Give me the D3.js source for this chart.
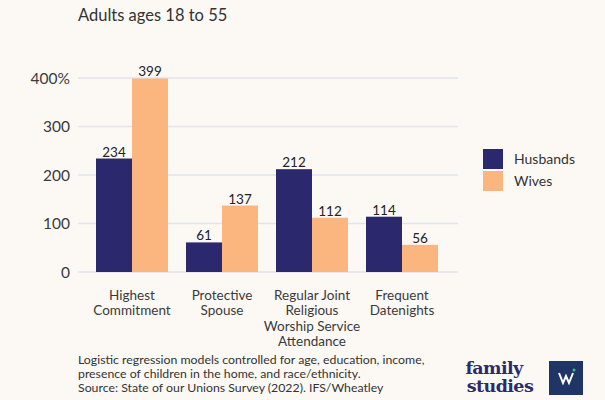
<!DOCTYPE html>
<html>
<head>
<meta charset="utf-8">
<script src="https://cdn.jsdelivr.net/npm/d3@7"></script>
<style>
  body { margin: 0; background: #fcf9f5; }
  svg { display: block; font-family: Lato, "Open Sans", sans-serif; }
</style>
</head>
<body>
<div class="svg-container"></div>
<script>
var categories = [
  ["Highest", "Commitment"],
  ["Protective", "Spouse"],
  ["Regular Joint", "Religious", "Worship Service", "Attendance"],
  ["Frequent", "Datenights"]
];
var seriesNames = ["Husbands", "Wives"];
var husbands = [234, 61, 212, 114];
var wives = [399, 137, 112, 56];
var yTicks = [0, 100, 200, 300, 400];
var colors = ["#2c286d", "#fbb67f"];
var footnote = [
  "Logistic regression models controlled for age, education, income,",
  "presence of children in the home, and race/ethnicity.",
  "Source: State of our Unions Survey (2022). IFS/Wheatley"
];

var width = 605, height = 400;
var svg = d3.select(".svg-container").append("svg")
  .attr("width", width).attr("height", height);

svg.append("rect").attr("width", width).attr("height", height).attr("fill", "#fcf9f5");

// subtitle
svg.append("text")
  .attr("x", 78).attr("y", 21)
  .attr("font-size", 16.5).attr("fill", "#333")
  .text("Adults ages 18 to 55");

var x = d3.scaleBand()
  .domain(d3.range(categories.length))
  .range([87, 447])
  .paddingInner(0.2).paddingOuter(0.1);

var xs = d3.scaleBand().domain([0, 1]).range([0, x.bandwidth()]);

var y = d3.scaleLinear().domain([0, 400]).range([272, 78]);

// grid
svg.append("g").selectAll("line")
  .data(yTicks).enter().append("line")
  .attr("x1", 78).attr("x2", 458)
  .attr("y1", function(d) { return y(d); })
  .attr("y2", function(d) { return y(d); })
  .attr("stroke", "#e2e3ee").attr("stroke-width", 1.5);

// y tick labels
svg.append("g").selectAll("text")
  .data(yTicks).enter().append("text")
  .attr("x", 70).attr("y", function(d) { return y(d); })
  .attr("dy", "0.36em")
  .attr("text-anchor", "end")
  .attr("font-size", 15.5).attr("fill", "#3a3a3a")
  .text(function(d) { return d === 400 ? d + "%" : d; });

var rows = categories.map(function(c, i) {
  return [husbands[i], wives[i]];
});

var groups = svg.append("g").selectAll("g.cat")
  .data(rows).enter().append("g")
  .attr("class", "cat")
  .attr("transform", function(d, i) { return "translate(" + x(i) + ",0)"; });

groups.selectAll("rect")
  .data(function(d) { return d; }).enter().append("rect")
  .attr("x", function(d, j) { return xs(j); })
  .attr("width", xs.bandwidth())
  .attr("y", function(d) { return y(d); })
  .attr("height", function(d) { return y(0) - y(d); })
  .attr("fill", function(d, j) { return colors[j]; });

groups.selectAll("text.val")
  .data(function(d) { return d; }).enter().append("text")
  .attr("class", "val")
  .attr("x", function(d, j) { return xs(j) + xs.bandwidth() / 2; })
  .attr("y", function(d) { return y(d) - 2; })
  .attr("text-anchor", "middle")
  .attr("font-size", 13.5).attr("fill", "#222")
  .text(function(d) { return d; });

// category labels
var catLabels = svg.append("g").selectAll("text")
  .data(categories).enter().append("text")
  .attr("text-anchor", "middle")
  .attr("font-size", 13.5).attr("fill", "#3a3a3a")
  .attr("transform", function(d, i) {
    return "translate(" + (x(i) + x.bandwidth() / 2) + ",300)";
  });
catLabels.selectAll("tspan")
  .data(function(d) { return d; }).enter().append("tspan")
  .attr("x", 0)
  .attr("y", function(d, k) { return k * 15.3; })
  .text(function(d) { return d; });

// legend
var legend = svg.append("g").selectAll("g")
  .data(seriesNames).enter().append("g")
  .attr("transform", function(d, i) { return "translate(483," + (149 + i * 22) + ")"; });
legend.append("rect")
  .attr("width", 20).attr("height", 20)
  .attr("fill", function(d, i) { return colors[i]; });
legend.append("text")
  .attr("x", 31).attr("y", 10).attr("dy", "0.36em")
  .attr("font-size", 14).attr("fill", "#333")
  .text(function(d) { return d; });

// footnote
svg.append("g").selectAll("text")
  .data(footnote).enter().append("text")
  .attr("x", 78).attr("y", function(d, i) { return 364 + i * 14; })
  .attr("font-size", 12.3).attr("fill", "#333")
  .text(function(d) { return d; });

// logo
var logo = svg.append("g")
  .attr("font-family", "DejaVu Serif, Liberation Serif, serif")
  .attr("font-weight", "bold").attr("font-size", 17.5)
  .attr("fill", "#2c2a6e")
  .attr("text-anchor", "middle")
  .attr("letter-spacing", -0.6);
logo.append("text")
  .attr("x", 494).attr("y", 374)
  .text("family");
logo.append("text")
  .attr("x", 500).attr("y", 392)
  .text("studies");
logo.append("rect")
  .attr("x", 549).attr("y", 361).attr("width", 34).attr("height", 34)
  .attr("fill", "#1f3566");
logo.append("path")
  .attr("d", "M559,373 L563,383 L566,376 L569,383 L573,373")
  .attr("fill", "none").attr("stroke", "#fff").attr("stroke-width", 2);
logo.append("circle")
  .attr("cx", 574).attr("cy", 370).attr("r", 1.5).attr("fill", "#3cc47c");
</script>
</body>
</html>
